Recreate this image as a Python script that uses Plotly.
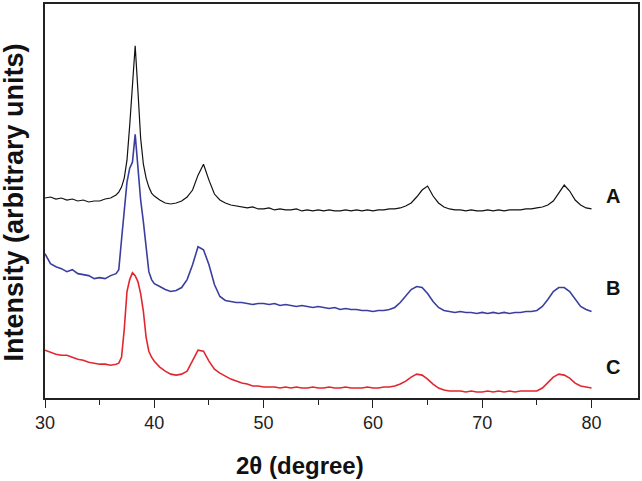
import plotly.graph_objects as go

# 2-theta grid (degrees), denser around the sharp main peak
two_theta = [
    30, 30.5, 31, 31.5, 32, 32.5, 33, 33.5, 34, 34.5, 35, 35.5, 36, 36.5,
    36.75, 37, 37.25, 37.5, 37.75, 38, 38.25, 38.5, 38.75, 39, 39.25, 39.5, 39.75, 40,
    40.5, 41, 41.5, 42, 42.5, 43, 43.5, 44, 44.5, 45, 45.5, 46, 46.5, 47, 47.5, 48,
    48.5, 49, 49.5, 50, 50.5, 51, 51.5, 52, 52.5, 53, 53.5, 54, 54.5, 55, 55.5, 56,
    56.5, 57, 57.5, 58, 58.5, 59, 59.5, 60, 60.5, 61, 61.5, 62, 62.5, 63, 63.5, 64,
    64.5, 65, 65.5, 66, 66.5, 67, 67.5, 68, 68.5, 69, 69.5, 70, 70.5, 71, 71.5, 72,
    72.5, 73, 73.5, 74, 74.5, 75, 75.5, 76, 76.5, 77, 77.5, 78, 78.5, 79, 79.5, 80,
]

# intensities (arbitrary units, curves already offset as in the figure)
intensity_a = [
    202, 203, 201, 202, 200, 201, 199, 200, 198, 199, 199, 201, 202, 205,
    208, 213, 222, 240, 275, 320, 355, 310, 262, 236, 222, 213, 207, 204,
    200, 197, 196, 197, 199, 203, 210, 225, 236, 220, 206, 200, 197, 195, 194, 193,
    192, 193, 191, 191, 192, 190, 191, 190, 190, 191, 189, 190, 189, 190, 189, 190,
    189, 189, 190, 189, 190, 189, 190, 189, 190, 190, 191, 191, 192, 194, 197, 203,
    210, 214, 204, 197, 193, 191, 190, 190, 189, 190, 189, 189, 190, 189, 190, 189,
    190, 190, 190, 191, 191, 192, 193, 195, 199, 207, 215, 209, 200, 195, 192, 191,
]
intensity_b = [
    146, 136, 133, 131, 128, 130, 126, 125, 124, 121, 122, 121, 124, 126,
    130, 160, 192, 218, 232, 238, 266, 230, 200, 178, 155, 128, 120, 116,
    113, 110, 108, 109, 112, 120, 135, 153, 150, 135, 115, 103, 99, 98, 97, 97,
    96, 95, 96, 96, 95, 96, 94, 95, 94, 93, 94, 93, 92, 93, 92, 91,
    92, 90, 91, 90, 90, 89, 89, 88, 89, 89, 90, 92, 97, 103, 110, 113,
    112, 106, 98, 92, 89, 88, 87, 88, 87, 87, 86, 87, 86, 87, 86, 87,
    86, 87, 87, 88, 88, 89, 93, 100, 108, 112, 112, 108, 100, 93, 90, 88,
]
intensity_c = [
    49, 47, 45, 44, 44, 42, 40, 39, 37, 36, 35, 35, 34, 35,
    36, 42, 70, 108, 120, 127, 124, 118, 106, 88, 62, 48, 42, 38,
    32, 28, 25, 24, 25, 28, 38, 49, 48, 38, 30, 26, 23, 20, 18, 16,
    15, 13, 13, 12, 12, 12, 11, 12, 11, 12, 11, 11, 12, 11, 11, 12,
    11, 11, 12, 11, 11, 11, 12, 11, 11, 12, 12, 13, 15, 18, 22, 25,
    24, 20, 15, 11, 9, 8, 8, 8, 7, 8, 7, 7, 8, 7, 8, 7,
    8, 7, 8, 8, 8, 8, 11, 16, 22, 25, 24, 21, 16, 13, 12, 11,
]

series_names = ["A", "B", "C"]
series_colors = ["#111111", "#3a3f9f", "#e3262d"]
series_widths = [1.2, 1.6, 1.6]
label_levels = [204, 112, 32]
font_family = "Liberation Sans, Arial"

fig = go.Figure()
for name, ys, color, w in zip(series_names, [intensity_a, intensity_b, intensity_c], series_colors, series_widths):
    fig.add_trace(go.Scatter(x=two_theta, y=ys, mode="lines", name=name,
                             line=dict(color=color, width=w)))

# curve labels on the right
for name, level in zip(series_names, label_levels):
    fig.add_annotation(x=82.0, y=level, xref="x", yref="y", text="<b>%s</b>" % name,
                       showarrow=False, font=dict(family=font_family, size=20, color="#111"))

# axis titles
fig.add_annotation(x=-0.053, y=0.495, xref="paper", yref="paper", text="<b>Intensity (arbitrary units)</b>",
                   textangle=-90, showarrow=False, xanchor="center", yanchor="middle",
                   font=dict(family=font_family, size=27, color="#111"))
fig.add_annotation(x=0.43, y=-0.172, xref="paper", yref="paper", text="<b>2θ (degree)</b>",
                   showarrow=False, xanchor="center", yanchor="middle",
                   font=dict(family=font_family, size=24, color="#111"))

fig.update_xaxes(range=[30, 84.25], tickvals=[30, 40, 50, 60, 70, 80], ticks="outside", ticklen=8,
                 tickwidth=1.3, tickcolor="#222", minor=dict(tickvals=[35, 45, 55, 65, 75], ticks="outside",
                 ticklen=5, tickwidth=1.3, tickcolor="#222"),
                 showline=True, linecolor="#222", linewidth=1.5, mirror=True, showgrid=False, zeroline=False,
                 tickfont=dict(family=font_family, size=18, color="#222"))
fig.update_yaxes(range=[1, 397], showticklabels=False, ticks="", showline=True, linecolor="#222",
                 linewidth=1.5, mirror=True, showgrid=False, zeroline=False)

fig.update_layout(width=642, height=481, margin=dict(l=45, r=4, t=2, b=83),
                  plot_bgcolor="white", paper_bgcolor="white", showlegend=False)

fig.write_html("out.html", config={"displayModeBar": False},
               post_script="document.body.style.margin='0';document.body.style.overflow='hidden';")
